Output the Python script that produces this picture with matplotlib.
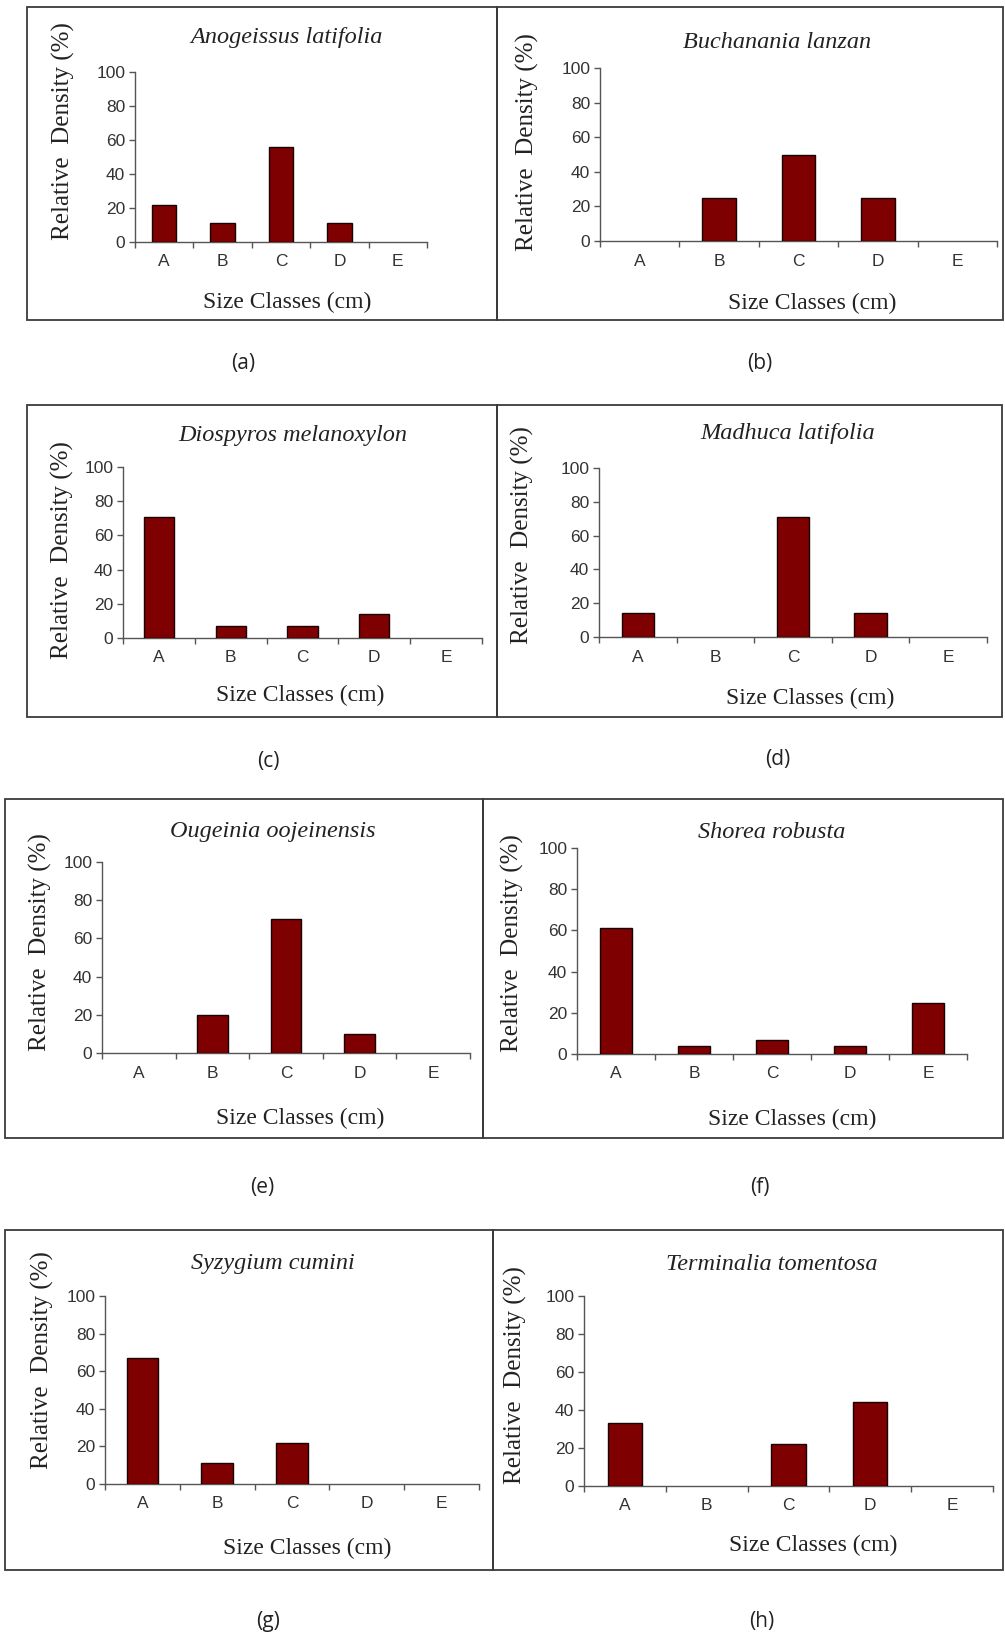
#!/usr/bin/env python3
"""Relative density by size class for eight tree species (panels a-h)."""

import matplotlib
matplotlib.use("Agg")
import matplotlib.pyplot as plt
from matplotlib.patches import Rectangle

W, H = 1005, 1634

classes = ["A", "B", "C", "D", "E"]
yticks = [0, 20, 40, 60, 80, 100]

species = [
    "Anogeissus latifolia",
    "Buchanania lanzan",
    "Diospyros melanoxylon",
    "Madhuca latifolia",
    "Ougeinia oojeinensis",
    "Shorea robusta",
    "Syzygium cumini",
    "Terminalia tomentosa",
]
panel_tags = ["(a)", "(b)", "(c)", "(d)", "(e)", "(f)", "(g)", "(h)"]

anogeissus = [22, 11, 56, 11, 0]
buchanania = [0, 25, 50, 25, 0]
diospyros = [71, 7, 7, 14, 0]
madhuca = [14, 0, 71, 14, 0]
ougeinia = [0, 20, 70, 10, 0]
shorea = [61, 4, 7, 4, 25]
syzygium = [67, 11, 22, 0, 0]
terminalia = [33, 0, 22, 44, 0]
values = [anogeissus, buchanania, diospyros, madhuca, ougeinia, shorea, syzygium, terminalia]

# pixel layout of each panel: axes (x0, x1, ytop, ybottom), title, xlabel, ylabel, tag, frame box
LAYOUT = [
    dict(ax=(135, 427, 72, 242), title=(287, 38), xl=(287, 302), yl=(63, 131), tag=(243, 363), box=(27, 7, 497, 320)),
    dict(ax=(600, 997, 68, 241), title=(777, 43), xl=(812, 303), yl=(527, 142), tag=(760, 363), box=(497, 7, 1003, 320)),
    dict(ax=(123, 482, 467, 638), title=(293, 435), xl=(300, 695), yl=(62, 550), tag=(268, 762), box=(27, 405, 497, 717)),
    dict(ax=(599, 987, 468, 637), title=(788, 434), xl=(810, 698), yl=(522, 535), tag=(778, 760), box=(497, 405, 1002, 717)),
    dict(ax=(102, 470, 862, 1053), title=(273, 832), xl=(300, 1118), yl=(40, 942), tag=(262, 1187), box=(5, 799, 483, 1138)),
    dict(ax=(577, 967, 848, 1054), title=(772, 832), xl=(792, 1119), yl=(512, 943), tag=(760, 1187), box=(483, 799, 1003, 1138)),
    dict(ax=(105, 479, 1296, 1484), title=(273, 1263), xl=(307, 1548), yl=(42, 1360), tag=(268, 1622), box=(5, 1230, 493, 1570)),
    dict(ax=(584, 993, 1296, 1486), title=(772, 1265), xl=(813, 1545), yl=(515, 1375), tag=(762, 1622), box=(493, 1230, 1003, 1570)),
]

BAR = "#7f0000"
SERIF = "Liberation Serif"
SANS = "Liberation Sans"


def fx(x):
    return x / W


def fy(y):
    return 1 - y / H


def draw_panel(fig, name, tag, vals, lay):
    x0, x1, yt, yb = lay["ax"]
    ax = fig.add_axes([fx(x0), fy(yb), (x1 - x0) / W, (yb - yt) / H])
    pos = list(range(1, len(classes) + 1))
    edges = ["#1a0000" if v > 0 else "none" for v in vals]
    ax.bar(pos, vals, width=0.42, color=BAR, edgecolor=edges, linewidth=1.0, zorder=3)
    ax.set_xlim(0.5, len(classes) + 0.5)
    ax.set_ylim(0, 100)
    ax.set_yticks(yticks)
    ax.set_xticks(pos)
    ax.set_xticklabels(classes)
    ax.set_xticks([p - 0.5 for p in pos] + [len(classes) + 0.5], minor=True)
    for side in ("top", "right"):
        ax.spines[side].set_visible(False)
    for side in ("left", "bottom"):
        ax.spines[side].set_color("#555555")
        ax.spines[side].set_linewidth(1.0)
    ax.tick_params(axis="x", which="major", length=0, pad=9, labelsize=12.5, labelcolor="#333333")
    ax.tick_params(axis="x", which="minor", length=4, width=1.0, color="#555555", direction="out")
    ax.tick_params(axis="y", length=4, width=1.0, color="#555555", pad=3, labelsize=12.5, labelcolor="#333333")
    for lab in ax.get_xticklabels() + ax.get_yticklabels():
        lab.set_family(SANS)
    ax.patch.set_visible(False)

    fig.text(fx(lay["title"][0]), fy(lay["title"][1]), name, ha="center", va="center",
             fontsize=17.5, style="italic", family=SERIF, color="#222222")
    fig.text(fx(lay["xl"][0]), fy(lay["xl"][1]), "Size Classes (cm)", ha="center", va="center",
             fontsize=17, family=SERIF, color="#222222")
    fig.text(fx(lay["yl"][0]), fy(lay["yl"][1]), "Relative  Density (%)", ha="center", va="center",
             rotation=90, fontsize=18, family=SERIF, color="#222222")
    fig.text(fx(lay["tag"][0]), fy(lay["tag"][1]), tag, ha="center", va="center",
             fontsize=15, family="Open Sans", color="#222222")

    bl, bt, br, bb = lay["box"]
    fig.add_artist(Rectangle((fx(bl), fy(bb)), (br - bl) / W, (bb - bt) / H, transform=fig.transFigure,
                             fill=False, edgecolor="#3a3a3a", linewidth=1.3))


def main():
    fig = plt.figure(figsize=(W / 100, H / 100), dpi=100)
    fig.patch.set_facecolor("white")
    for name, tag, vals, lay in zip(species, panel_tags, values, LAYOUT):
        draw_panel(fig, name, tag, vals, lay)
    fig.savefig("out.png", dpi=100, facecolor="white")
    plt.close(fig)


if __name__ == "__main__":
    main()
